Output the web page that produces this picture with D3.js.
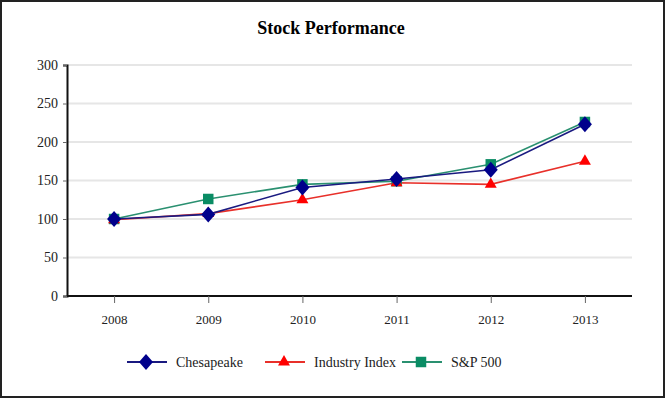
<!DOCTYPE html>
<html>
<head>
<style>
  body { margin: 0; background: #fff; }
  svg text { font-family: "Liberation Serif", "Times New Roman", serif; }
</style>
<script src="https://d3js.org/d3.v7.min.js"></script>
</head>
<body>
<script>
const years = ["2008", "2009", "2010", "2011", "2012", "2013"];
const chesapeake = [100, 106, 141, 152, 164, 223];
const industry = [99, 107, 125, 147, 145, 175];
const sp500 = [100, 126, 145, 149, 171, 226];
const yTicks = [0, 50, 100, 150, 200, 250, 300];

const w = 666, h = 400;
const mLeft = 67, mRight = 632, mTop = 65, mBottom = 296;
const serif = "Liberation Serif";

const svg = d3.select("body").append("svg").attr("width", w).attr("height", h);

// frame
svg.append("rect").attr("x", 1).attr("y", 1).attr("width", w - 3).attr("height", h - 4)
  .attr("fill", "#fff").attr("stroke", "#222").attr("stroke-width", 2);

svg.append("text").attr("x", 331).attr("y", 34).attr("text-anchor", "middle")
  .attr("font-family", serif).style("font-size", "18px").style("font-weight", "bold").text("Stock Performance");

const x = d3.scalePoint().domain(years).range([mLeft, mRight]).padding(0.5);
const y = d3.scaleLinear().domain([0, 300]).range([mBottom, mTop]);

// grid
svg.append("g").selectAll("line").data(yTicks.slice(1)).enter().append("line")
  .attr("x1", mLeft).attr("x2", mRight).attr("y1", d => y(d)).attr("y2", d => y(d))
  .attr("stroke", "#e6e6e6").attr("stroke-width", 2);

// y axis
const yAxis = svg.append("g").attr("transform", `translate(${mLeft},0)`)
  .call(d3.axisLeft(y).tickValues(yTicks).tickSize(4).tickPadding(5))
  .attr("font-family", serif).attr("font-size", 14);
yAxis.select(".domain").attr("stroke", "#111").attr("stroke-width", 2);
yAxis.selectAll(".tick line").attr("stroke", "#666");
yAxis.selectAll("text").attr("fill", "#222");

// x axis
const xAxis = svg.append("g").attr("transform", `translate(0,${mBottom})`)
  .call(d3.axisBottom(x).tickSize(7).tickSizeOuter(0).tickPadding(12))
  .attr("font-family", serif).attr("font-size", 13);
xAxis.select(".domain").attr("d", `M${mLeft},0H${mRight}`).attr("stroke", "#111").attr("stroke-width", 2);
xAxis.selectAll(".tick line").attr("stroke", "#666");
xAxis.selectAll("text").attr("fill", "#222");

// diamond: rotated square, a bit taller than wide
const diamond = "M0,-8L7,0L0,8L-7,0Z";
const series = [
  { name: "Chesapeake", values: chesapeake, color: "#1a1a80", fill: "#00008b", shape: diamond, lx: 127 },
  { name: "Industry Index", values: industry, color: "#e8302a", fill: "#ff0000", shape: d3.symbol().type(d3.symbolTriangle).size(62)(), lx: 265 },
  { name: "S&P 500", values: sp500, color: "#2a9070", fill: "#0a8c64", shape: d3.symbol().type(d3.symbolSquare).size(110)(), lx: 402 }
];

const line = d3.line().x((d, i) => x(years[i])).y(d => y(d));

// draw in order: S&P, Industry, Chesapeake (on top)
const order = [series[2], series[1], series[0]];
order.forEach(s => {
  svg.append("path").attr("d", line(s.values)).attr("fill", "none")
    .attr("stroke", s.color).attr("stroke-width", 1.6);
});
order.forEach(s => {
  svg.append("g").selectAll("path").data(s.values).enter().append("path")
    .attr("d", s.shape)
    .attr("transform", (d, i) => `translate(${x(years[i])},${y(d)})`)
    .attr("fill", s.fill);
});

// legend
const ly = 362;
series.forEach(s => {
  const g = svg.append("g");
  g.append("line").attr("x1", s.lx).attr("x2", s.lx + 40).attr("y1", ly).attr("y2", ly)
    .attr("stroke", s.color).attr("stroke-width", 2);
  g.append("path").attr("d", s.shape)
    .attr("transform", `translate(${s.lx + 19},${ly})`)
    .attr("fill", s.fill);
  g.append("text").attr("x", s.lx + 49).attr("y", ly + 5)
    .attr("font-family", serif).style("font-size", "14px")
    .attr("fill", "#222").text(s.name);
});
</script>
</body>
</html>
